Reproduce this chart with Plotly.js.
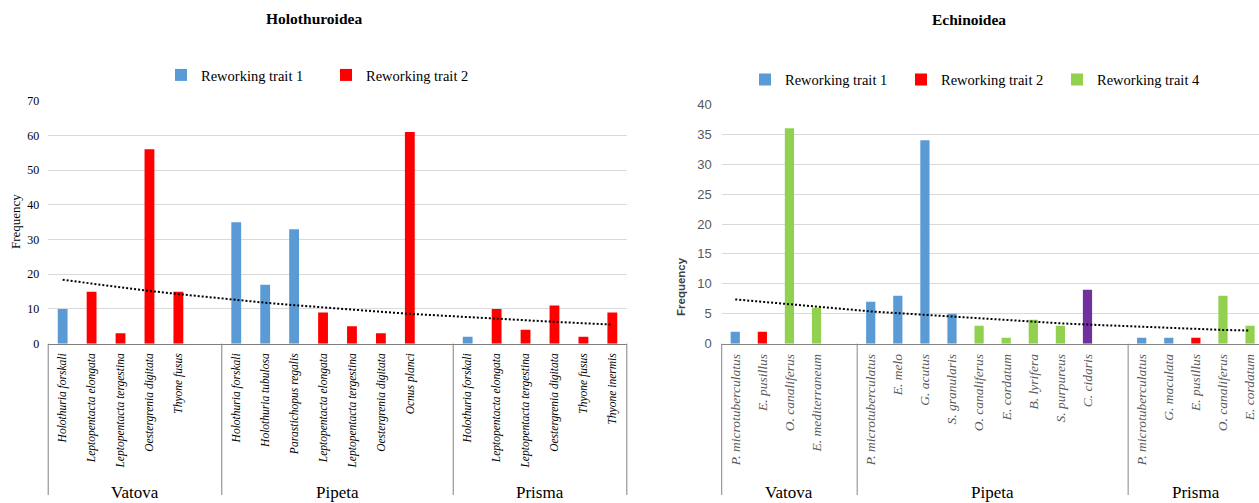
<!DOCTYPE html>
<html><head><meta charset="utf-8">
<script src="https://cdn.plot.ly/plotly-3.0.1.min.js"></script>
<style>body{margin:0;background:#fff}</style>
</head><body><div id="chart" style="width:1259px;height:503px"></div>
<script>
// ---------- Holothuroidea ----------
const holoSpecies = ["Holothuria forskali","Leptopentacta elongata","Leptopentacta tergestina","Oestergrenia digitata","Thyone fusus","",
  "Holothuria forskali","Holothuria tubulosa","Parastichopus regalis","Leptopentacta elongata","Leptopentacta tergestina","Oestergrenia digitata","Ocnus planci","",
  "Holothuria forskali","Leptopentacta elongata","Leptopentacta tergestina","Oestergrenia digitata","Thyone fusus","Thyone inermis"];
const holoSites = ["Vatova","Vatova","Vatova","Vatova","Vatova","Vatova",
  "Pipeta","Pipeta","Pipeta","Pipeta","Pipeta","Pipeta","Pipeta","Pipeta",
  "Prisma","Prisma","Prisma","Prisma","Prisma","Prisma"];
const holoFrequency = [10,15,3,56,15,null,35,17,33,9,5,3,61,null,2,10,4,11,2,9];
const holoTrait = [1,2,2,2,2,null,1,1,1,2,2,2,2,null,1,2,2,2,2,2];
const holoTrend = [18.4,17.3,16.2,15.2,14.3,13.4,12.6,11.8,11.1,10.4,9.8,9.2,8.6,8.1,7.6,7.1,6.7,6.3,5.9,5.5];

// ---------- Echinoidea ----------
const echinoSpecies = ["P. microtuberculatus","E. pusillus","O. canaliferus","E. mediterraneum","",
  "P. microtuberculatus","E. melo","G. acutus","S. granularis","O. canaliferus","E. cordatum","B. lyrifera","S. purpureus","C. cidaris","",
  "P. microtuberculatus","G. maculata","E. pusillus","O. canaliferus","E. cordatum"];
const echinoSites = ["Vatova","Vatova","Vatova","Vatova","Vatova",
  "Pipeta","Pipeta","Pipeta","Pipeta","Pipeta","Pipeta","Pipeta","Pipeta","Pipeta","Pipeta",
  "Prisma","Prisma","Prisma","Prisma","Prisma"];
const echinoFrequency = [2,2,36,6,null,7,8,34,5,3,1,4,3,9,null,1,1,1,8,3];
const echinoTrait = [1,2,4,4,null,1,1,1,1,4,4,4,4,3,null,1,1,2,4,4];
const echinoTrend = [7.4,7.0,6.6,6.1,5.8,5.4,5.1,4.8,4.5,4.2,3.9,3.7,3.4,3.2,3.0,2.8,2.7,2.5,2.3,2.2];

const traitNames = {1:"Reworking trait 1",2:"Reworking trait 2",3:"Reworking trait 3",4:"Reworking trait 4"};
const traitColors = {1:"#5b9bd5",2:"#ff0000",3:"#7030a0",4:"#92d050"};

const W = 1259, H = 503;
const SERIF = "Liberation Serif";
const SANS = "Liberation Sans";

function buildChart(cfg) {
  const traces = [];
  const traits = [...new Set(cfg.trait.filter(t => t !== null))].sort();
  traits.forEach(t => {
    const xs = [], ys = [];
    cfg.trait.forEach((tr, i) => { if (tr === t) { xs.push(i); ys.push(cfg.freq[i]); } });
    traces.push({
      type: "bar", x: xs, y: ys, width: 0.34,
      name: traitNames[t], marker: {color: traitColors[t], line: {width: 0}},
      xaxis: cfg.xa, yaxis: cfg.ya, legend: cfg.legend,
      showlegend: cfg.legendTraits.includes(t), hoverinfo: "x+y"
    });
  });
  traces.push({
    type: "scatter", mode: "lines", x: cfg.trend.map((_, i) => i), y: cfg.trend,
    line: {color: "#000", width: 2, dash: "2px,2px"}, showlegend: false,
    xaxis: cfg.xa, yaxis: cfg.ya, hoverinfo: "skip"
  });
  return traces;
}

const holoRange = [-0.5, holoSpecies.length - 0.5];
const echinoRange = [-0.5, 19.33];

const traces = [
  ...buildChart({freq: holoFrequency, trait: holoTrait, trend: holoTrend, xa: "x", ya: "y", legend: "legend", legendTraits: [1,2]}),
  ...buildChart({freq: echinoFrequency, trait: echinoTrait, trend: echinoTrend, xa: "x2", ya: "y2", legend: "legend2", legendTraits: [1,2,4]})
];

function tickSetup(species) {
  const vals = [], txt = [];
  species.forEach((s, i) => { if (s) { vals.push(i); txt.push("<i>" + s + "</i>"); } });
  return {vals, txt};
}
const ht = tickSetup(holoSpecies), et = tickSetup(echinoSpecies);

const yBase = 1 - 343.7 / H;
const yBottom = 1 - 495 / H;
const shapes = [], annotations = [];

function separators(sites, range, xref, color, drawEnd) {
  const bounds = [-0.5];
  for (let i = 1; i < sites.length; i++) if (sites[i] !== sites[i-1]) bounds.push(i - 0.5);
  if (drawEnd) bounds.push(sites.length - 0.5);
  bounds.forEach(b => {
    const f = (b - range[0]) / (range[1] - range[0]);
    shapes.push({type: "line", xref: xref + " domain", yref: "paper", x0: f, x1: f, y0: yBase, y1: yBottom,
      line: {color: color, width: 1}});
  });
  const groups = [...new Set(sites)];
  groups.forEach(g => {
    const idx = sites.map((s, i) => s === g ? i : null).filter(v => v !== null);
    const c = (idx[0] + idx[idx.length - 1]) / 2;
    annotations.push({xref: xref, yref: "paper", x: c, y: 1 - 492 / H, text: g, showarrow: false,
      xanchor: "center", yanchor: "middle", font: {family: SERIF, size: 17, color: "#000"}});
  });
}
separators(holoSites, holoRange, "x", "#808080", true);
separators(echinoSites, echinoRange, "x2", "#868686", false);

annotations.push(
  {xref: "paper", yref: "paper", x: 314 / W, y: 1 - 18 / H, text: "<b>Holothuroidea</b>", showarrow: false,
   xanchor: "center", yanchor: "middle", font: {family: SERIF, size: 15.5, color: "#000"}},
  {xref: "paper", yref: "paper", x: 969 / W, y: 1 - 19 / H, text: "<b>Echinoidea</b>", showarrow: false,
   xanchor: "center", yanchor: "middle", font: {family: SERIF, size: 15.5, color: "#000"}},
  {xref: "paper", yref: "paper", x: 15 / W, y: 1 - 222 / H, text: "Frequency", textangle: -90, showarrow: false,
   xanchor: "center", yanchor: "middle", font: {family: SERIF, size: 13, color: "#000"}},
  {xref: "paper", yref: "paper", x: 681 / W, y: 1 - 287 / H, text: "<b>Frequency</b>", textangle: -90, showarrow: false,
   xanchor: "center", yanchor: "middle", font: {family: SANS, size: 11.5, color: "#404040"}}
);

const layout = {
  width: W, height: H, margin: {l: 0, r: 0, t: 0, b: 0},
  paper_bgcolor: "#fff", plot_bgcolor: "rgba(0,0,0,0)",
  font: {family: SERIF},
  barmode: "overlay", showlegend: true, hovermode: false,
  xaxis: {domain: [48.2 / W, 626.8 / W], range: holoRange, anchor: "y",
    tickmode: "array", tickvals: ht.vals, ticktext: ht.txt, tickangle: -90, ticks: "",
    tickfont: {family: SERIF, size: 11.5, color: "#000"}, ticklabelstandoff: 4,
    showgrid: false, zeroline: false, showline: true, linecolor: "#808080", linewidth: 1, fixedrange: true},
  yaxis: {domain: [yBase, 1 - 100.7 / H], range: [0, 70], dtick: 10, anchor: "x",
    tickfont: {family: SERIF, size: 12, color: "#000"}, ticks: "", ticklabelstandoff: 8,
    gridcolor: "#d9d9d9", gridwidth: 1, zeroline: false, showline: false, fixedrange: true},
  xaxis2: {domain: [721.7 / W, 1], range: echinoRange, anchor: "y2",
    tickmode: "array", tickvals: et.vals, ticktext: et.txt, tickangle: -90, ticks: "",
    tickfont: {family: SERIF, size: 13.5, color: "#595959"}, ticklabelstandoff: 4,
    showgrid: false, zeroline: false, showline: true, linecolor: "#868686", linewidth: 1, fixedrange: true},
  yaxis2: {domain: [yBase, 1 - 104.3 / H], range: [0, 40], dtick: 5, anchor: "x2",
    tickfont: {family: SANS, size: 13, color: "#595959"}, ticks: "", ticklabelstandoff: 9,
    gridcolor: "#d9d9d9", gridwidth: 1, zeroline: false, showline: false, fixedrange: true},
  legend: {orientation: "h", x: 161 / W, xanchor: "left", y: 1 - 75 / H, yanchor: "middle",
    entrywidth: 120, font: {family: SERIF, size: 14.5, color: "#000"}, bgcolor: "rgba(0,0,0,0)", borderwidth: 0},
  legend2: {orientation: "h", x: 745 / W, xanchor: "left", y: 1 - 79.5 / H, yanchor: "middle",
    entrywidth: 111, font: {family: SERIF, size: 14.5, color: "#000"}, bgcolor: "rgba(0,0,0,0)", borderwidth: 0},
  shapes: shapes, annotations: annotations
};

Plotly.newPlot("chart", traces, layout, {displayModeBar: false, staticPlot: true});
</script></body></html>
